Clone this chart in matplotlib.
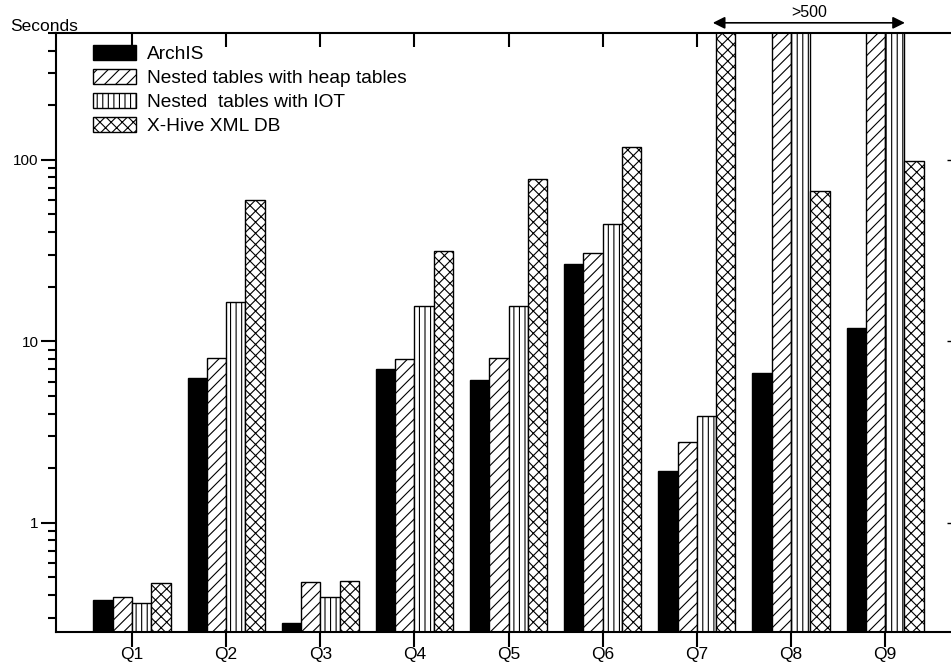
import numpy as np
from matplotlib import pyplot as plt
from matplotlib.ticker import LogLocator, NullFormatter, FixedLocator

plt.rcParams['font.family'] = ['Liberation Sans', 'DejaVu Sans']
plt.rcParams['hatch.linewidth'] = 0.8

# data (seconds); values > 500 are off the chart
queries   = ['Q1', 'Q2', 'Q3', 'Q4', 'Q5', 'Q6', 'Q7', 'Q8', 'Q9']
archis    = [0.365, 6.24, 0.269, 6.99, 6.08, 26.8, 1.92, 6.65, 11.8]
heap      = [0.378, 8.04, 0.463, 7.94, 8.04, 30.5, 2.77, 1000, 1000]
iot       = [0.352, 16.4, 0.378, 15.6, 15.6, 44.1, 3.85, 1000, 1000]
xhive     = [0.457, 59.7, 0.465, 31.3, 78.0, 118.0, 1000, 67.7, 98.4]
labels    = ['ArchIS', 'Nested tables with heap tables',
             'Nested  tables with IOT', 'X-Hive XML DB']

x = np.arange(len(queries))
w = 0.205

fig = plt.figure(figsize=(9.51, 6.63), dpi=100)
ax  = fig.add_axes([56/951, 31/663, 1 - 56/951, 599/663])

styles = [dict(color='k', edgecolor='k'),
          dict(color='w', edgecolor='k', hatch='///'),
          dict(color='w', edgecolor='k', hatch='|||'),
          dict(color='w', edgecolor='k', hatch='xxx')]

for i, (vals, lab, st) in enumerate(zip([archis, heap, iot, xhive], labels, styles)):
    ax.bar(x + (i - 1.5) * w, vals, w, bottom=0.01, label=lab, linewidth=1.0, **st)

ax.set_yscale('log')
ax.set_ylim(0.25, 500)
ax.set_xlim(-0.807, 8.70)

ax.spines['right'].set_visible(False)
for s in ['left', 'top', 'bottom']:
    ax.spines[s].set_linewidth(1.5)

ax.yaxis.set_major_locator(FixedLocator([1, 10, 100]))
ax.yaxis.set_minor_locator(LogLocator(base=10, subs=np.arange(2, 10)))
ax.yaxis.set_minor_formatter(NullFormatter())
ax.set_yticklabels(['1', '10', '100'])
ax.tick_params(axis='y', which='major', direction='out', length=11, width=1.5,
               labelsize=11, pad=1.5)
ax.tick_params(axis='y', which='minor', direction='out', length=6, width=1.5)

ax.set_xticks(x)
ax.set_xticklabels(queries)
ax.tick_params(axis='x', which='major', direction='out', length=11, width=1.5,
               labelsize=12.5, pad=0, top=False)

# top inward ticks at the queries
ax2 = ax.secondary_xaxis('top')
ax2.set_xticks(x)
ax2.set_xticklabels([])
ax2.tick_params(direction='in', length=10, width=1.5)
ax2.spines['top'].set_visible(False)

# short ticks on the (cut) right side
ay2 = ax.secondary_yaxis('right')
ay2.set_yticks([1, 10, 100])
ay2.set_yticks([], minor=True)
ay2.set_yticklabels([])
ay2.tick_params(direction='in', length=3, width=1.0)
ay2.spines['right'].set_visible(False)
ax.tick_params(axis='y', which='both', right=False)

leg = ax.legend(loc='upper left', bbox_to_anchor=(93/951, 1 - 45/663),
                bbox_transform=fig.transFigure, frameon=False, fontsize=13.8,
                handlelength=2.25, handleheight=0.8, handletextpad=0.55,
                labelspacing=0.32, borderpad=0, borderaxespad=0)

fig.text(10/951, 1 - 31/663, 'Seconds', fontsize=12.5, va='baseline', ha='left')

# >500 marker over Q7-Q9
ax.annotate('', xy=(6.17, 1.017), xytext=(8.21, 1.017),
            xycoords=('data', 'axes fraction'), textcoords=('data', 'axes fraction'),
            arrowprops=dict(arrowstyle='<|-|>', color='k', lw=1.2,
                            mutation_scale=18, shrinkA=0, shrinkB=0),
            annotation_clip=False)
ax.text(7.19, 1.022, '>500', transform=ax.get_xaxis_transform(),
        ha='center', va='bottom', fontsize=11.5)

plt.savefig('out.png', dpi=100)
